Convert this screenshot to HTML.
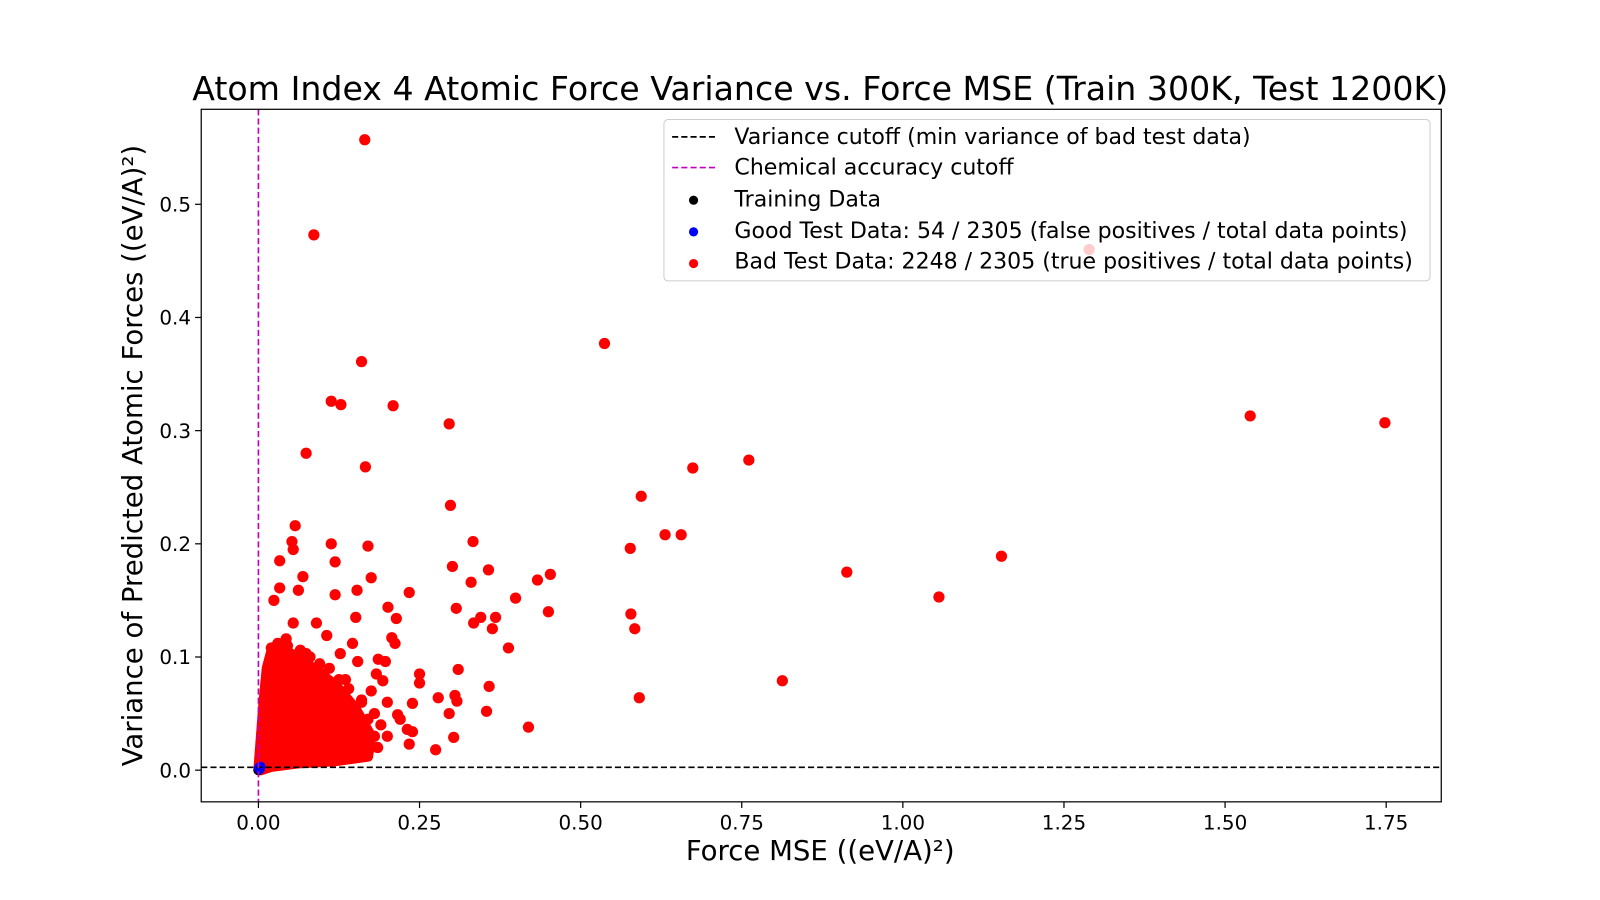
<!DOCTYPE html>
<html><head><meta charset="utf-8"><style>
html,body{margin:0;padding:0;background:#fff;}
svg{display:block;font-family:"DejaVu Sans","Liberation Sans",sans-serif;}
</style></head><body>
<svg id="chart" width="1600" height="900" viewBox="0 0 1566.4 881.1">
<rect width="1600" height="900" fill="#fff"/>
<text x="803" y="98" font-size="32.5" text-anchor="middle">Atom Index 4 Atomic Force Variance vs. Force MSE (Train 300K, Test 1200K)</text>
<g id="plot"></g>
<rect x="197" y="107" width="1214" height="678" fill="none" stroke="#000" stroke-width="1.2"/>
<g id="axes"></g>
<text x="803" y="842" font-size="27" text-anchor="middle">Force MSE ((eV/A)²)</text>
<text transform="translate(139,446) rotate(-90)" font-size="27" text-anchor="middle">Variance of Predicted Atomic Forces ((eV/A)²)</text>
<g>
<rect x="650" y="117" width="750" height="158" rx="4" fill="#fff" fill-opacity="0.8" stroke="#ccc"/>
<line x1="658" y1="134" x2="700" y2="134" stroke="#000" stroke-width="1.6" stroke-dasharray="6,3"/>
<text x="719" y="141" font-size="21.6">Variance cutoff (min variance of bad test data)</text>
<line x1="658" y1="164" x2="700" y2="164" stroke="#c000c0" stroke-width="1.6" stroke-dasharray="6,3"/>
<text x="719" y="171" font-size="21.6">Chemical accuracy cutoff</text>
<circle cx="679" cy="196" r="4.5" fill="#000"/>
<text x="719" y="202" font-size="21.6">Training Data</text>
<circle cx="679" cy="227" r="4.5" fill="#0000ff"/>
<text x="719" y="233" font-size="21.6">Good Test Data: 54 / 2305 (false positives / total data points)</text>
<circle cx="679" cy="258" r="4.5" fill="#ff0000"/>
<text x="719" y="263" font-size="21.6">Bad Test Data: 2248 / 2305 (true positives / total data points)</text>
</g>
</svg>
<script>
const xTicks=[0,0.25,0.5,0.75,1.0,1.25,1.5,1.75];
const xTickLabels=["0.00","0.25","0.50","0.75","1.00","1.25","1.50","1.75"];
const yTicks=[0,0.1,0.2,0.3,0.4,0.5];
const yTickLabels=["0.0","0.1","0.2","0.3","0.4","0.5"];
const varianceCutoff=0.0025;
const chemCutoff=0.0;
const badX=[0.165,0.086,1.289,0.537,0.160,0.113,0.128,0.209,1.539,1.748,0.296,0.074,0.166,0.674,0.761,0.298,0.594,0.631,0.656,0.057,0.333,0.577,0.453,0.433,0.301,0.357,0.913,1.153,1.056,0.234,0.399,0.307,0.330,0.450,0.578,0.584,0.345,0.368,0.334,0.363,0.388,0.813,0.591,0.310,0.250,0.197,0.214,0.201,0.207,0.212,0.170,0.113,0.119,0.175,0.153,0.119,0.151,0.052,0.054,0.033,0.069,0.033,0.062,0.024,0.146,0.250,0.296,0.303,0.275,0.419,0.358,0.354,0.308,0.305,0.231,0.239,0.234,0.216,0.239,0.279,0.193,0.175,0.183,0.186,0.154,0.127,0.106,0.090,0.074,0.054,0.043,0.140,0.120,0.100,0.170,0.180,0.160,0.135,0.200,0.150,0.020,0.030,0.045,0.065,0.080,0.095,0.110,0.125,0.140,0.160,0.180,0.190,0.015,0.025,0.050,0.070,0.085,0.105,0.130,0.160,0.185,0.200,0.220];
const badY=[0.557,0.473,0.460,0.377,0.361,0.326,0.323,0.322,0.313,0.307,0.306,0.280,0.268,0.267,0.274,0.234,0.242,0.208,0.208,0.216,0.202,0.196,0.173,0.168,0.180,0.177,0.175,0.189,0.153,0.157,0.152,0.143,0.166,0.140,0.138,0.125,0.135,0.135,0.130,0.125,0.108,0.079,0.064,0.089,0.085,0.096,0.134,0.144,0.117,0.112,0.198,0.200,0.184,0.170,0.159,0.155,0.135,0.202,0.195,0.185,0.171,0.161,0.159,0.150,0.112,0.077,0.050,0.029,0.018,0.038,0.074,0.052,0.061,0.066,0.036,0.034,0.023,0.049,0.059,0.064,0.079,0.070,0.085,0.098,0.096,0.103,0.119,0.130,0.103,0.130,0.116,0.055,0.070,0.085,0.045,0.030,0.060,0.080,0.060,0.025,0.108,0.112,0.110,0.106,0.100,0.094,0.090,0.080,0.072,0.062,0.050,0.040,0.012,0.012,0.014,0.015,0.016,0.017,0.018,0.016,0.020,0.030,0.045];
const clusterX=[0,0.004,0.008,0.013,0.02,0.035,0.06,0.09,0.12,0.15,0.175,0.17,0.12,0.06,0.02,0.004];
const clusterY=[0,0.03,0.06,0.09,0.105,0.108,0.1,0.088,0.075,0.055,0.03,0.012,0.008,0.006,0.003,0];
const trainX=[0,0.001,0.002];
const trainY=[0,0.001,0.002];
const goodX=[0.001,0.002,0.003];
const goodY=[0.002,0.001,0.003];

const X0=197,X1=1411,Y0=107,Y1=785;
function sx(v){return 253+v*630.9;}
function sy(v){return 754-v*1108;}
const NS="http://www.w3.org/2000/svg";
const plot=document.getElementById('plot'),axes=document.getElementById('axes');
function mk(tag,attrs,parent){const e=document.createElementNS(NS,tag);for(const k in attrs)e.setAttribute(k,attrs[k]);parent.appendChild(e);return e;}

let pts=clusterX.map((x,i)=>sx(x)+','+sy(clusterY[i])).join(' ');
const poly=mk('polygon',{points:pts,fill:'#ff0000',stroke:'#ff0000','stroke-width':10,'stroke-linejoin':'round'},plot);


trainX.forEach((x,i)=>{const c=mk('circle',{cx:sx(x),cy:sy(trainY[i]),r:5,fill:'#000'},plot);

});
goodX.forEach((x,i)=>{const c=mk('circle',{cx:sx(x),cy:sy(goodY[i]),r:5,fill:'#0000ff'},plot);

});
badX.forEach((x,i)=>{const c=mk('circle',{cx:sx(x),cy:sy(badY[i]),r:5.5,fill:'#ff0000'},plot);

});
const hl=mk('line',{x1:X0,x2:X1,y1:sy(varianceCutoff),y2:sy(varianceCutoff),stroke:'#000','stroke-width':1.6,'stroke-dasharray':'6,3'},plot);


const vl=mk('line',{x1:sx(chemCutoff),x2:sx(chemCutoff),y1:Y0,y2:Y1,stroke:'#c000c0','stroke-width':1.6,'stroke-dasharray':'6,3'},plot);


xTicks.forEach((v,i)=>{const x=sx(v);
const t=mk('line',{x1:x,x2:x,y1:Y1,y2:Y1+6,stroke:'#000','stroke-width':1.2},axes);


const l=mk('text',{x:x,y:Y1+27,'font-size':19.5,'text-anchor':'middle'},axes);l.textContent=xTickLabels[i];

});
yTicks.forEach((v,i)=>{const y=sy(v);
const t=mk('line',{x1:X0-6,x2:X0,y1:y,y2:y,stroke:'#000','stroke-width':1.2},axes);


const l=mk('text',{x:X0-10,y:y+7,'font-size':19.5,'text-anchor':'end'},axes);l.textContent=yTickLabels[i];

});
</script>
</body></html>
